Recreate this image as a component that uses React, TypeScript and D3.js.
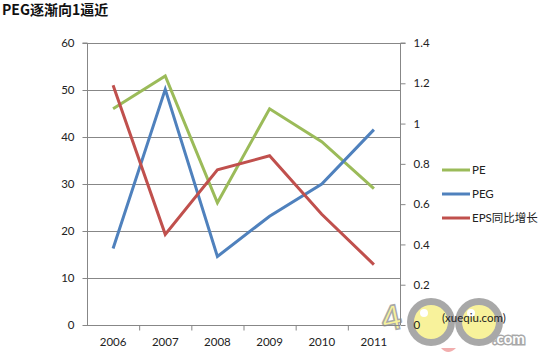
import React, { useEffect, useRef } from "react";
import * as d3 from "d3";

const years = ["2006", "2007", "2008", "2009", "2010", "2011"];
const peValues = [46, 53, 26, 46, 39, 29];
const pegValues = [0.38, 1.17, 0.34, 0.54, 0.7, 0.97];
const epsValues = [1.19, 0.45, 0.77, 0.84, 0.55, 0.3];
const leftTicks = [0, 10, 20, 30, 40, 50, 60];
const rightTicks = [0, 0.2, 0.4, 0.6, 0.8, 1, 1.2, 1.4];
const seriesNames = ["PE", "PEG", "EPS同比增长"];
const seriesColors = ["#9bbb59", "#4f81bd", "#c0504d"];

const W = 543, H = 360;
const font = "Lato, 'Noto Sans CJK SC', sans-serif";

export default function App() {
  const ref = useRef<SVGSVGElement>(null);

  useEffect(() => {
    const svg = d3.select(ref.current);
    svg.selectAll("*").remove();

    const left = 87, right = 400, top = 43, bottom = 325;
    const x = d3.scaleBand().domain(years).range([left, right]);
    const yL = d3.scaleLinear().domain([0, 60]).range([bottom, top]);
    const yR = d3.scaleLinear().domain([0, 1.4]).range([bottom, top]);
    const axisColor = "#878787";

    // watermark (under the chart)
    const wm = svg.append("g").attr("opacity", 0.85);
    wm.append("circle").attr("cx", 431).attr("cy", 322).attr("r", 24).attr("fill", "#9a9a9a");
    wm.append("circle").attr("cx", 479).attr("cy", 322).attr("r", 24).attr("fill", "#9a9a9a");
    wm.append("circle").attr("cx", 431).attr("cy", 322).attr("r", 17).attr("fill", "#f7f08a");
    wm.append("circle").attr("cx", 479).attr("cy", 322).attr("r", 17).attr("fill", "#f7f08a");
    wm.append("circle").attr("cx", 424).attr("cy", 313).attr("r", 4).attr("fill", "#fff");
    wm.append("circle").attr("cx", 471).attr("cy", 313).attr("r", 4).attr("fill", "#fff");
    wm.append("text").attr("x", 381).attr("y", 330).attr("font-family", "Lato, sans-serif")
      .attr("font-weight", "bold").attr("font-size", 34).attr("fill", "#f7f08a")
      .attr("stroke", "#9a9a9a").attr("stroke-width", 1.5).attr("transform", "rotate(-12 392 315)").text("4");
    wm.append("text").attr("x", 493).attr("y", 344).attr("font-family", "Lato, sans-serif")
      .attr("font-weight", "bold").attr("font-size", 15).attr("fill", "#fff")
      .attr("stroke", "#9a9a9a").attr("stroke-width", 3).attr("paint-order", "stroke").text(".com");
    wm.append("path").attr("d", "M441,348 Q448,356 456,348 Z").attr("fill", "#f0a0a0");

    svg.append("text")
      .attr("x", 2).attr("y", 15)
      .attr("font-family", "'Noto Sans CJK SC', sans-serif")
      .attr("font-weight", "bold").attr("font-size", 14)
      .attr("fill", "#111")
      .text("PEG逐渐向1逼近");

    // gridlines
    svg.append("g").selectAll("line").data(leftTicks.filter(d => d > 0)).enter()
      .append("line")
      .attr("x1", left).attr("x2", right)
      .attr("y1", d => yL(d) + 0.5).attr("y2", d => yL(d) + 0.5)
      .attr("stroke", axisColor).attr("stroke-width", 1);

    // left axis
    const gl = svg.append("g").attr("transform", `translate(${left + 0.5},0)`)
      .call(d3.axisLeft(yL).tickValues(leftTicks).tickSize(5).tickPadding(8).tickFormat(d3.format("d")));
    gl.select(".domain").attr("stroke", axisColor).attr("d", `M-5,${top}H0V${bottom}`);
    gl.selectAll(".tick line").attr("stroke", axisColor);
    gl.selectAll(".tick text").attr("font-family", font).attr("font-size", 11.5).attr("fill", "#222");

    // right axis
    const gr = svg.append("g").attr("transform", `translate(${right + 0.5},0)`)
      .call(d3.axisRight(yR).tickValues(rightTicks).tickSize(5).tickPadding(8).tickFormat(d => String(+(+d).toFixed(1))));
    gr.select(".domain").attr("stroke", axisColor).attr("d", `M5,${top}H0V${bottom}`);
    gr.selectAll(".tick line").attr("stroke", axisColor);
    gr.selectAll(".tick text").attr("font-family", font).attr("font-size", 11.5).attr("fill", "#222");

    // bottom axis
    const gb = svg.append("g").attr("transform", `translate(0,${bottom + 0.5})`)
      .call(d3.axisBottom(x).tickSize(0).tickPadding(12));
    gb.select(".domain").attr("stroke", axisColor).attr("d", `M${left},0H${right}`);
    gb.selectAll(".tick text").attr("font-family", font).attr("font-size", 11.5).attr("fill", "#222");
    gb.selectAll("line.sep").data(years.slice(1)).enter().append("line")
      .attr("class", "sep")
      .attr("x1", d => (x(d) as number) + 0.5).attr("x2", d => (x(d) as number) + 0.5)
      .attr("y1", 0).attr("y2", 5).attr("stroke", axisColor);

    const cx = (d: string) => (x(d) as number) + x.bandwidth() / 2;
    const lineL = d3.line<number>().x((_, i) => cx(years[i])).y(d => yL(d));
    const lineR = d3.line<number>().x((_, i) => cx(years[i])).y(d => yR(d));

    const data: [number[], d3.Line<number>][] = [[peValues, lineL], [pegValues, lineR], [epsValues, lineR]];
    data.forEach(([vals, gen], i) => {
      svg.append("path").attr("d", gen(vals))
        .attr("fill", "none").attr("stroke", seriesColors[i])
        .attr("stroke-width", 3).attr("stroke-linejoin", "miter");
    });

    // legend
    const lg = svg.append("g");
    seriesNames.forEach((name, i) => {
      const yy = 170 + i * 24;
      lg.append("line").attr("x1", 442).attr("x2", 470).attr("y1", yy).attr("y2", yy)
        .attr("stroke", seriesColors[i]).attr("stroke-width", 3);
      lg.append("text").attr("x", 472).attr("y", yy + 4)
        .attr("font-family", font).attr("font-size", 11.5).attr("fill", "#222")
        .text(name);
    });

    svg.append("text").attr("x", 442).attr("y", 322).attr("font-family", font)
      .attr("font-size", 11.5).attr("fill", "#222").text("(xueqiu.com)");
  }, []);

  return (
    <svg ref={ref} width={W} height={H}
      style={{ position: "absolute", left: 0, top: 0, background: "#fff" }} />
  );
}
